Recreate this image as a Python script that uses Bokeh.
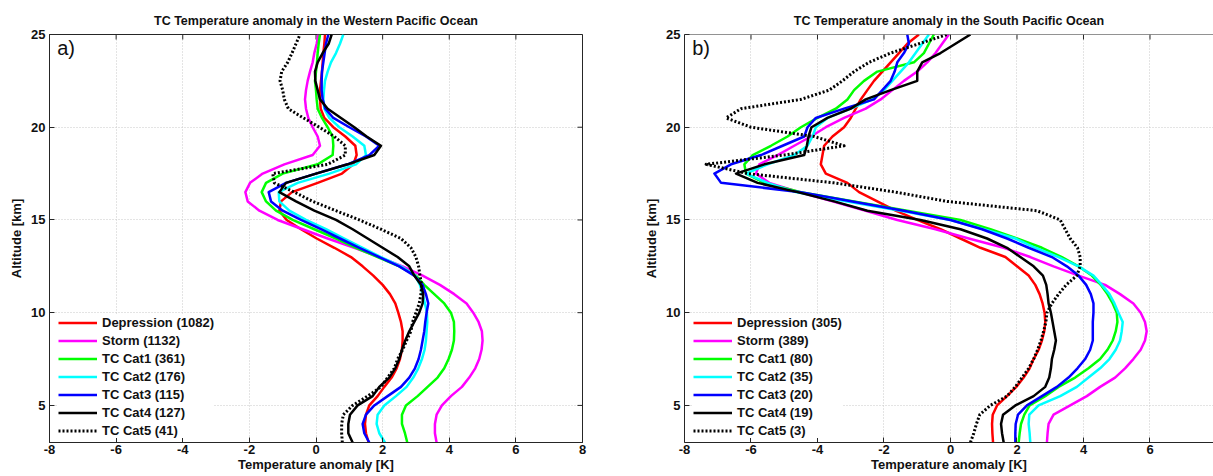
import math
from bokeh.plotting import figure
from bokeh.models import Range1d, FixedTicker, Legend, LegendItem, Label, Span
from bokeh.layouts import row
from bokeh.embed import file_html
from bokeh.resources import INLINE

# ---------------- data ----------------
altitude_km = [3.0, 3.5, 4.0, 4.5, 5.0, 5.5, 6.0, 6.5, 7.0, 7.5, 8.0, 8.5, 9.0, 9.5,
               10.0, 10.5, 11.0, 11.5, 12.0, 12.5, 13.0, 13.5, 14.0, 14.5, 15.0, 15.5,
               16.0, 16.5, 17.0, 17.5, 18.0, 18.5, 19.0, 19.5, 20.0, 20.5, 21.0, 21.5,
               22.0, 22.5, 23.0, 23.5, 24.0, 24.5, 25.0]

categories = ["Depression", "Storm", "TC Cat1", "TC Cat2", "TC Cat3", "TC Cat4", "TC Cat5"]
wp_counts = [1082, 1132, 361, 176, 115, 127, 41]
sp_counts = [305, 389, 80, 35, 20, 19, 3]

# Western Pacific (panel a)
wp_depression = [1.58, 1.50, 1.47, 1.50, 1.60, 1.85, 2.05, 2.27, 2.42, 2.52, 2.58, 2.60, 2.60, 2.55,
                 2.47, 2.38, 2.22, 2.00, 1.72, 1.40, 1.05, 0.55, 0.02, -0.45, -0.88, -1.10,
                 -1.05, -0.72, 0.05, 0.78, 1.12, 1.22, 1.18, 0.88, 0.52, 0.25, 0.14, 0.12,
                 0.12, 0.15, 0.18, 0.20, 0.22, 0.25, 0.27]
wp_storm = [3.62, 3.57, 3.57, 3.62, 3.78, 4.05, 4.38, 4.60, 4.78, 4.90, 4.97, 5.00, 4.98, 4.88,
            4.72, 4.52, 4.15, 3.72, 3.20, 2.60, 1.90, 1.15, 0.35, -0.40, -1.15, -1.70,
            -2.05, -2.12, -1.98, -1.60, -0.95, -0.10, 0.12, 0.05, -0.10, -0.23, -0.30, -0.33,
            -0.30, -0.25, -0.18, -0.10, -0.05, 0.02, 0.07]
wp_cat1 = [2.74, 2.67, 2.58, 2.58, 2.70, 3.05, 3.35, 3.65, 3.85, 3.98, 4.08, 4.14, 4.15, 4.14,
           4.05, 3.85, 3.55, 3.25, 3.00, 2.50, 1.85, 1.20, 0.60, -0.05, -0.70, -1.20,
           -1.50, -1.63, -1.50, -1.00, 0.05, 0.50, 0.52, 0.50, 0.35, 0.18, 0.05, 0.02,
           0.00, -0.03, 0.00, 0.03, 0.05, 0.08, 0.12]
wp_cat2 = [2.07, 1.90, 1.82, 1.85, 2.05, 2.40, 2.72, 2.92, 3.07, 3.18, 3.26, 3.30, 3.32, 3.34,
           3.33, 3.27, 3.20, 3.12, 2.98, 2.55, 1.95, 1.40, 0.85, 0.30, -0.30, -0.80,
           -1.10, -1.12, -0.55, 0.40, 1.20, 1.50, 1.45, 1.10, 0.70, 0.40, 0.25, 0.22,
           0.24, 0.27, 0.35, 0.45, 0.60, 0.72, 0.82]
wp_cat3 = [1.60, 1.45, 1.40, 1.50, 1.75, 2.15, 2.55, 2.80, 2.97, 3.08, 3.15, 3.20, 3.25, 3.28,
           3.32, 3.37, 3.30, 3.20, 2.95, 2.50, 1.90, 1.30, 0.72, 0.15, -0.45, -1.00,
           -1.35, -1.42, -0.90, 0.00, 0.95, 1.60, 1.90, 1.50, 1.00, 0.52, 0.28, 0.20,
           0.17, 0.17, 0.18, 0.22, 0.26, 0.30, 0.37]
wp_cat4 = [1.10, 0.97, 0.97, 1.02, 1.25, 1.70, 1.90, 2.20, 2.38, 2.50, 2.58, 2.68, 2.80, 2.95,
           3.10, 3.20, 3.22, 3.15, 2.95, 2.80, 2.45, 2.00, 1.55, 1.10, 0.60, -0.05,
           -0.60, -1.10, -0.90, 0.00, 0.95, 1.75, 1.95, 1.52, 1.15, 0.75, 0.35, 0.12,
           0.05, -0.02, -0.03, 0.05, 0.20, 0.38, 0.47]
wp_cat5 = [0.79, 0.77, 0.77, 0.82, 1.10, 1.55, 1.95, 2.15, 2.35, 2.45, 2.60, 2.72, 2.85, 2.90,
           3.00, 3.10, 3.15, 3.17, 3.12, 3.08, 3.00, 2.85, 2.55, 1.95, 1.30, 0.60,
           -0.10, -0.65, -1.25, -1.30, 0.35, 0.88, 0.88, 0.55, 0.10, -0.38, -0.83, -0.95,
           -1.00, -1.08, -1.03, -0.85, -0.72, -0.60, -0.48]

# South Pacific (panel b)
sp_depression = [1.28, 1.26, 1.25, 1.27, 1.40, 1.70, 1.98, 2.20, 2.38, 2.50, 2.65, 2.75, 2.82, 2.85,
                 2.83, 2.77, 2.68, 2.55, 2.35, 2.00, 1.65, 0.90, 0.30, -0.30, -1.00, -1.65,
                 -2.20, -2.75, -3.10, -3.75, -3.90, -3.85, -3.80, -3.55, -3.20, -3.00, -2.85, -2.70,
                 -2.50, -2.30, -2.05, -1.80, -1.55, -1.30, -0.95]
sp_storm = [2.90, 2.92, 2.95, 3.10, 3.60, 4.10, 4.50, 4.95, 5.25, 5.50, 5.72, 5.85, 5.90, 5.85,
            5.72, 5.50, 5.10, 4.65, 3.85, 3.10, 2.40, 1.60, 0.55, -0.45, -1.60, -2.55,
            -3.55, -4.55, -5.45, -5.85, -5.75, -5.20, -4.70, -4.20, -3.75, -3.20, -2.55, -2.10,
            -1.75, -1.40, -1.00, -0.70, -0.45, -0.25, -0.05]
sp_cat1 = [2.05, 2.08, 2.12, 2.22, 2.38, 2.85, 3.25, 3.75, 4.15, 4.50, 4.72, 4.88, 4.97, 5.02,
           5.00, 4.88, 4.72, 4.52, 4.25, 3.85, 3.35, 2.75, 2.00, 1.20, 0.30, -1.30,
           -2.90, -4.50, -5.60, -6.15, -6.20, -5.95, -5.40, -4.90, -4.50, -4.00, -3.45, -3.10,
           -2.90, -2.60, -2.20, -1.10, -0.80, -0.65, -0.50]
sp_cat2 = [2.40, 2.38, 2.35, 2.37, 2.65, 3.30, 3.80, 4.15, 4.50, 4.78, 4.97, 5.10, 5.15, 5.18,
           5.05, 4.93, 4.78, 4.55, 4.30, 3.85, 3.25, 2.55, 1.95, 1.00, 0.00, -1.50,
           -3.10, -4.65, -5.50, -6.15, -5.50, -4.70, -4.30, -4.15, -4.05, -3.70, -3.00, -2.35,
           -2.00, -1.75, -1.50, -1.25, -1.05, -0.85, -0.65]
sp_cat3 = [1.95, 1.95, 1.96, 2.03, 2.30, 2.75, 3.20, 3.55, 3.82, 4.05, 4.20, 4.28, 4.28, 4.28,
           4.30, 4.30, 4.22, 4.08, 3.85, 3.50, 3.05, 2.35, 1.70, 0.95, 0.00, -1.40,
           -2.95, -4.50, -6.90, -7.10, -6.60, -5.70, -5.05, -4.40, -4.30, -4.05, -3.20, -2.30,
           -2.05, -1.80, -1.68, -1.60, -1.40, -1.25, -1.30]
sp_cat4 = [1.60, 1.55, 1.52, 1.58, 1.95, 2.50, 2.85, 2.97, 3.02, 3.05, 3.12, 3.17, 3.12, 3.07,
           3.02, 2.95, 2.92, 2.88, 2.78, 2.50, 2.10, 1.70, 1.10, 0.30, -0.90, -2.50,
           -3.50, -4.60, -5.80, -6.45, -5.60, -4.40, -4.32, -4.27, -4.18, -3.70, -3.00, -2.55,
           -1.80, -1.00, -1.00, -0.85, -0.30, 0.15, 0.60]
sp_cat5 = [0.60, 0.70, 0.78, 0.88, 1.20, 1.70, 1.95, 2.15, 2.35, 2.50, 2.62, 2.72, 2.80, 2.87,
           2.90, 3.05, 3.25, 3.48, 3.80, 3.90, 3.90, 3.82, 3.60, 3.45, 3.30, 2.60,
           -0.10, -1.65, -3.50, -6.10, -7.35, -5.00, -3.20, -4.10, -6.00, -6.75, -6.30, -4.50,
           -3.65, -3.25, -2.90, -2.45, -1.80, -0.95, -0.10]

x_ticks = [-8, -6, -4, -2, 0, 2, 4, 6, 8]
y_ticks = [5, 10, 15, 20, 25]

# ---------------- styles ----------------
FONT = "Liberation Sans"
AX = "#262626"
TXT = "#111111"
colors = ["#ff0000", "#ff00ff", "#00ff00", "#00ffff", "#0000ff", "#000000", "#000000"]
dashes = ["solid"] * 6 + ["2 2"]
widths = [2.5] * 6 + [3]


def style_axis(ax, ticks):
    ax.ticker = FixedTicker(ticks=ticks)
    ax.major_label_overrides = {t: str(t) for t in ticks}
    ax.axis_line_color = AX
    ax.major_tick_line_color = AX
    ax.major_tick_in = 5
    ax.major_tick_out = 0
    ax.minor_tick_line_color = None
    ax.major_label_text_font = FONT
    ax.major_label_text_font_style = "bold"
    ax.major_label_text_font_size = "13px"
    ax.major_label_text_color = TXT
    ax.axis_label_text_font = FONT
    ax.axis_label_text_font_style = "bold"
    ax.axis_label_text_font_size = "13px"
    ax.axis_label_text_color = TXT


def make_panel(title, tag, series, counts, width, border_left, border_right, border_top,
               frame_h, x_end, full_box):
    H = 476
    p = figure(width=width, height=H, x_range=Range1d(-8, x_end), y_range=Range1d(3, 25),
               output_backend="svg", toolbar_location=None,
               min_border_left=border_left, min_border_right=border_right,
               min_border_top=border_top, min_border_bottom=H - border_top - frame_h,
               background_fill_color="white", border_fill_color="white")
    p.title.text = title
    p.title.align = "center"
    p.title.text_font = FONT
    p.title.text_font_style = "bold"
    p.title.text_font_size = "12.5px"
    p.title.text_color = TXT
    p.title.standoff = 13

    style_axis(p.xaxis[0], x_ticks)
    style_axis(p.yaxis[0], y_ticks)
    p.xaxis.axis_label = "Temperature anomaly [K]"
    p.yaxis.axis_label = "Altitude [km]"
    p.xaxis.major_label_standoff = 2
    p.xaxis.axis_label_standoff = 0
    p.yaxis.major_label_standoff = 4
    p.yaxis.axis_label_standoff = 4

    p.grid.grid_line_color = "#c8c8c8"
    p.grid.grid_line_dash = "1 2"
    p.xgrid.ticker = FixedTicker(ticks=x_ticks)
    p.ygrid.ticker = FixedTicker(ticks=y_ticks)

    # box: top edge and inward ticks on top (and right for the full box)
    if full_box:
        p.outline_line_color = AX
        p.ray(x=[x_end] * len(y_ticks), y=y_ticks, length=5, length_units="screen",
              angle=math.pi, line_color=AX, line_width=1)
    else:
        p.outline_line_color = None
        p.add_layout(Span(location=25, dimension="width", line_color=AX, line_width=1))
    p.ray(x=x_ticks, y=[25] * len(x_ticks), length=5, length_units="screen",
          angle=-math.pi / 2, line_color=AX, line_width=1)

    items = []
    for name, n, vals, c, d, w in zip(categories, counts, series, colors, dashes, widths):
        r = p.line(vals, altitude_km, line_color=c, line_width=w, line_dash=d,
                   line_join="round")
        items.append(LegendItem(label=f"{name} ({n})", renderers=[r]))

    leg = Legend(items=items, location=(9, 4), padding=5, margin=0, spacing=3,
                 glyph_width=39, glyph_height=15, label_height=15, label_standoff=5,
                 label_text_font=FONT, label_text_font_style="bold",
                 label_text_font_size="13px", label_text_color=TXT,
                 border_line_color=None, background_fill_color="white",
                 background_fill_alpha=1.0)
    p.add_layout(leg)

    p.add_layout(Label(x=-7.77, y=24.25, text=tag, text_font=FONT, text_font_size="20px",
                       text_baseline="middle", text_color=TXT))
    return p


wp_series = [wp_depression, wp_storm, wp_cat1, wp_cat2, wp_cat3, wp_cat4, wp_cat5]
sp_series = [sp_depression, sp_storm, sp_cat1, sp_cat2, sp_cat3, sp_cat4, sp_cat5]

p1 = make_panel("TC Temperature anomaly in the Western Pacific Ocean", "a)", wp_series,
                wp_counts, width=630, border_left=49, border_right=48, border_top=31,
                frame_h=411, x_end=8, full_box=True)
p2 = make_panel("TC Temperature anomaly in the South Pacific Ocean", "b)", sp_series,
                sp_counts, width=583, border_left=54, border_right=0, border_top=34,
                frame_h=409, x_end=7.91, full_box=False)

layout = row(p1, p2)
open("out.html", "w").write(file_html(layout, INLINE))
